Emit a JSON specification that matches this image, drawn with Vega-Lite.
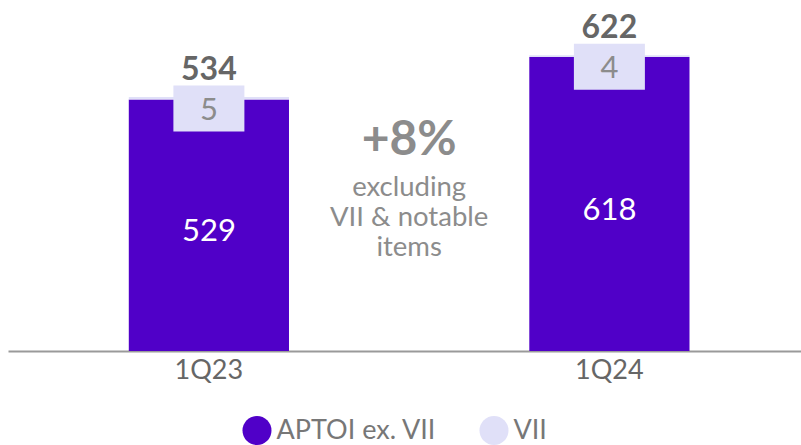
{
  "$schema": "https://vega.github.io/schema/vega-lite/v6.json",
  "autosize": "none",
  "padding": {"left": 8, "top": 0, "right": 0, "bottom": 94},
  "width": 793,
  "height": 351,
  "background": "white",
  "config": {
    "font": "Lato",
    "view": {"stroke": null}
  },
  "data": {
    "values": [
      {"quarter": "1Q23", "series": "APTOI ex. VII", "value": 529},
      {"quarter": "1Q23", "series": "VII", "value": 5},
      {"quarter": "1Q24", "series": "APTOI ex. VII", "value": 618},
      {"quarter": "1Q24", "series": "VII", "value": 4}
    ]
  },
  "encoding": {
    "x": {
      "field": "quarter",
      "type": "nominal",
      "sort": ["1Q23", "1Q24"],
      "scale": {"paddingInner": 0.6, "paddingOuter": 0.29, "align": 0.52},
      "axis": {
        "title": null,
        "labelAngle": 0,
        "labelFontSize": 27,
        "labelColor": "#666666",
        "labelPadding": 6,
        "ticks": false,
        "domainColor": "#9a9a9a",
        "domainWidth": 2,
        "grid": false
      }
    }
  },
  "layer": [
    {
      "mark": {"type": "bar"},
      "encoding": {
        "y": {
          "field": "value",
          "type": "quantitative",
          "stack": "zero",
          "scale": {"domain": [0, 738], "nice": false, "zero": true},
          "axis": null
        },
        "color": {
          "field": "series",
          "type": "nominal",
          "scale": {"domain": ["APTOI ex. VII", "VII"], "range": ["#5000c8", "#e0e0f8"]},
          "legend": {
            "title": null,
            "orient": "none",
            "direction": "horizontal",
            "legendX": 234.5,
            "legendY": 416,
            "symbolType": "circle",
            "symbolSize": 841,
            "symbolStrokeWidth": 0,
            "symbolOpacity": 1,
            "labelFontSize": 27,
            "labelLimit": 0,
            "labelColor": "#777777",
            "labelOffset": 5,
            "columnPadding": 43,
            "labelBaseline": "middle"
          }
        },
        "order": {"field": "series", "sort": "ascending"}
      }
    },
    {
      "transform": [{"filter": "datum.series == 'APTOI ex. VII'"}],
      "mark": {"type": "text", "color": "white", "fontSize": 31, "baseline": "alphabetic", "dy": 15.5},
      "encoding": {
        "y": {"field": "value", "type": "quantitative", "stack": "zero", "bandPosition": 0.5},
        "text": {"field": "value", "type": "quantitative"}
      }
    },
    {
      "transform": [
        {"joinaggregate": [{"op": "sum", "field": "value", "as": "total"}], "groupby": ["quarter"]},
        {"filter": "datum.series == 'VII'"}
      ],
      "layer": [
        {
          "mark": {
            "type": "point",
            "shape": "M-1,-0.648L1,-0.648L1,0.648L-1,0.648Z",
            "size": 5041,
            "filled": true,
            "fill": "#e0e0f8",
            "opacity": 1,
            "strokeWidth": 0,
            "yOffset": 11.5
          },
          "encoding": {
            "y": {"field": "total", "type": "quantitative"}
          }
        },
        {
          "mark": {"type": "text", "color": "#8c8c8c", "fontSize": 31, "baseline": "alphabetic", "dy": 23},
          "encoding": {
            "y": {"field": "total", "type": "quantitative"},
            "text": {"field": "value", "type": "quantitative"}
          }
        },
        {
          "mark": {"type": "text", "color": "#666666", "fontSize": 32, "fontWeight": "bold", "baseline": "alphabetic", "dy": -17},
          "encoding": {
            "y": {"field": "total", "type": "quantitative"},
            "text": {"field": "total", "type": "quantitative"}
          }
        }
      ]
    },
    {
      "data": {"values": [{"label": "+8%"}]},
      "mark": {"type": "text", "color": "#8c8c8c", "fontSize": 48, "fontWeight": "bold", "baseline": "alphabetic"},
      "encoding": {
        "x": {"datum": "1Q24", "bandPosition": -0.75},
        "y": {"datum": 412, "type": "quantitative"},
        "text": {"field": "label"}
      }
    },
    {
      "data": {"values": [{"label": "excluding\nVII & notable\nitems"}]},
      "mark": {"type": "text", "color": "#8c8c8c", "fontSize": 27.5, "baseline": "alphabetic", "lineBreak": "\n", "lineHeight": 30},
      "encoding": {
        "x": {"datum": "1Q24", "bandPosition": -0.75},
        "y": {"datum": 325, "type": "quantitative"},
        "text": {"field": "label"}
      }
    }
  ]
}
